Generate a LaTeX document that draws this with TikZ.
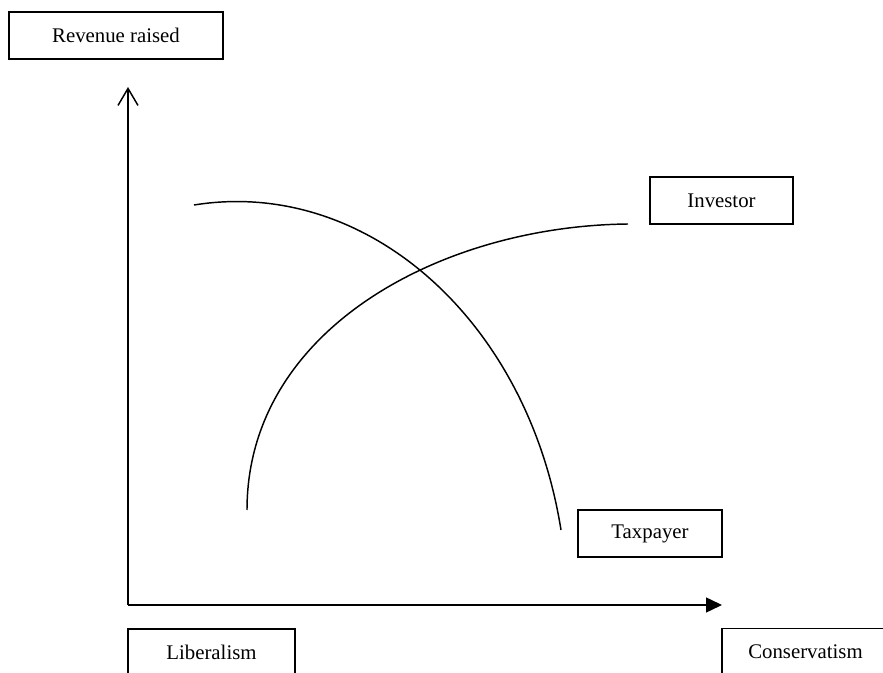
\documentclass[tikz,border=0pt]{standalone}
\usepackage{fontspec}
\setmainfont{Liberation Serif}
\usetikzlibrary{arrows.meta,positioning}

\begin{document}
\begin{tikzpicture}[
    x=0.75pt,y=-0.75pt,
    lbl/.style={draw,line width=1.1pt,inner sep=0pt,minimum height=35.25pt,
                font=\fontsize{15.6}{18}\selectfont,align=center},
    axis/.style={line width=1.1pt},
    curve/.style={line width=1.1pt}
  ]
  \useasboundingbox (0,0) rectangle (883,673);
  % labels
  \node[lbl,minimum width=160.5pt] (revenue) at (116,35.5) {Revenue raised};
  \node[lbl,minimum width=107.25pt] (investor) at (721.5,200.5) {Investor};
  \node[lbl,minimum width=108pt] (taxpayer) at (650,533.5) {Taxpayer};
  \node[lbl,minimum width=125.25pt] (liberal) at (211.5,652.5) {Liberalism};
  \node[lbl,minimum width=125.25pt] (conserv) at (805.5,652) {Conservatism};
  % axes
  \coordinate (origin) at (128,605);
  \coordinate (ytop) at (128,87);
  \coordinate (xend) at (722,605);
  \draw[axis,-{Straight Barb[length=12.75pt,width=15pt]}] (origin) -- (ytop);
  \draw[axis,-{Triangle[length=12pt,width=11.25pt]}] (origin) -- (xend);
  % curves
  \draw[curve] (247,510) .. controls (247,330) and (440,226) .. (628,224);
  \draw[curve] (194,205) .. controls (366.7,177.2) and (527.7,320.4) .. (561,530);
\end{tikzpicture}
\end{document}
